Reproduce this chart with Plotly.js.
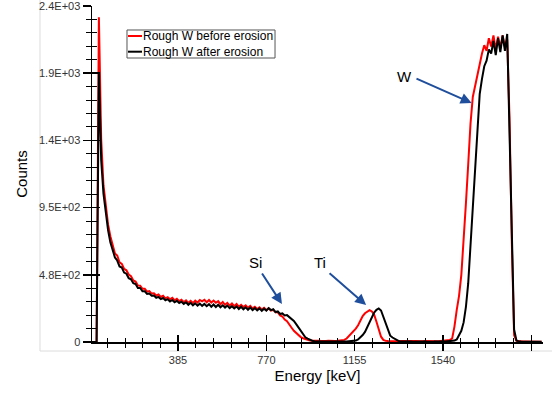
<!DOCTYPE html>
<html>
<head>
<meta charset="utf-8">
<script src="https://cdn.plot.ly/plotly-3.0.1.min.js"></script>
<style>html,body{margin:0;padding:0;background:#fff;}#chart{width:552px;height:394px;}</style>
</head>
<body>
<div id="chart"></div>
<script>
// Energy channels (keV)
var energy = [
0,10,20,30,40,50,60,70,80,90,
100,110,120,130,140,150,160,170,180,190,
200,210,220,230,240,250,260,270,280,290,
300,310,320,330,340,350,360,370,380,390,
400,410,420,430,440,450,460,470,480,490,
500,510,520,530,540,550,560,570,580,590,
600,610,620,630,640,650,660,670,680,690,
700,710,720,730,740,750,760,770,780,790,
800,810,820,830,840,850,860,870,880,890,
900,910,920,930,940,950,960,970,980,990,
1000,1010,1020,1030,1040,1050,1060,1070,1080,1090,
1100,1110,1120,1130,1140,1150,1160,1170,1180,1190,
1200,1210,1220,1230,1240,1250,1260,1270,1280,1290,
1300,1310,1320,1330,1340,1350,1360,1370,1380,1390,
1400,1410,1420,1430,1440,1450,1460,1470,1480,1490,
1500,1510,1520,1530,1540,1550,1560,1570,1580,1590,
1600,1610,1620,1630,1640,1650,1660,1670,1680,1690,
1700,1710,1720,1730,1740,1750,1760,1770,1780,1790,
1800,1810,1820,1830,1840,1850,1860,1870,1880,1890,
1900,1910,1920,1930,1940,1950,1960,1970
];
// Counts: Rough W before erosion
var before = [
0,0,0,0,2320,1450,1120,965,840,755,
690,632,618,570,558,522,512,482,470,440,
432,404,402,380,380,360,364,346,348,332,
340,322,330,312,320,305,316,298,309,292,
302,284,298,280,294,278,296,282,300,290,
302,284,300,282,296,280,292,270,286,266,
280,260,276,256,272,252,266,250,262,244,
258,240,252,236,248,232,244,228,240,224,
230,212,212,190,182,160,148,120,102,80,
64,46,35,27,20,15,11,9,10,8,
9,7,10,8,9,7,10,8,9,11,
12,15,25,42,60,78,96,120,155,185,
205,218,228,218,195,145,92,38,15,8,
7,6,8,7,6,8,7,6,7,8,
6,7,8,6,7,6,8,7,6,7,
8,7,6,8,9,10,12,15,25,110,
230,330,480,710,990,1270,1560,1750,1830,1900,
1990,2060,2120,2080,2170,2110,2190,2090,2180,2100,
2190,2110,2160,1600,720,50,8,5,4,3,
3,2,3,2,2,3,2,2
];
// Counts: Rough W after erosion
var after = [
0,0,0,0,1920,1300,1060,905,800,712,
652,604,582,540,532,496,488,456,448,420,
414,386,386,362,362,344,346,330,332,316,
322,306,314,298,306,290,300,284,294,278,
288,272,284,266,280,262,276,260,274,258,
272,256,270,252,268,250,266,248,262,246,
260,242,256,240,254,236,252,234,248,230,
246,228,242,226,240,222,238,224,242,228,
234,214,218,200,204,190,192,178,168,150,
128,105,80,50,34,24,15,9,5,4,
3,4,3,2,4,3,3,4,2,3,
3,4,3,4,5,6,10,18,32,50,
72,105,140,180,210,230,240,225,180,135,
80,45,32,22,8,4,3,4,3,2,
3,2,3,4,2,3,3,2,4,3,
3,4,3,2,4,3,5,6,8,10,
18,45,80,140,250,420,690,970,1260,1530,
1770,1880,1970,2010,2090,2060,2150,2050,2170,2070,
2190,2080,2200,1500,700,90,12,4,3,2,
2,2,1,2,1,2,1,1
];
var seriesNames = ['Rough W before erosion', 'Rough W after erosion'];
var seriesColors = ['#ff0000', '#000000'];
var xTickVals = [385, 770, 1155, 1540, 1925];
var xTickText = ['385', '770', '1155', '1540', ''];
var yTickVals = [0, 480, 960, 1440, 1920, 2400];
var yTickText = ['0', '4.8E+02', '9.5E+02', '1.4E+03', '1.9E+03', '2.4E+03'];
var peakLabels = ['Si', 'Ti', 'W'];
var labelPos = [[721, 571], [1002, 571], [1374, 1900]];
var arrowTail = [[747, 500], [1039, 500], [1418, 1886]];
var arrowHead = [[838, 271], [1205, 264], [1665, 1707]];

var FONT = 'Arial, "Liberation Sans", sans-serif';
var XR = [10, 1976], YR = [0, 2400];

var traces = [
  {x: energy, y: before, type: 'scatter', mode: 'lines', name: seriesNames[0],
   line: {color: seriesColors[0], width: 2}, hoverinfo: 'skip'},
  {x: energy, y: after, type: 'scatter', mode: 'lines', name: seriesNames[1],
   line: {color: seriesColors[1], width: 2}, hoverinfo: 'skip'},
  {x: [], y: [], xaxis: 'x2', yaxis: 'y2', type: 'scatter', mode: 'lines',
   showlegend: false, hoverinfo: 'skip'}
];

var annotations = [];
for (var i = 0; i < peakLabels.length; i++) {
  annotations.push({x: labelPos[i][0], y: labelPos[i][1], xref: 'x', yref: 'y',
    text: peakLabels[i], showarrow: false, font: {family: FONT, size: 15, color: '#000'}});
  annotations.push({x: arrowHead[i][0], y: arrowHead[i][1], xref: 'x', yref: 'y',
    ax: arrowTail[i][0], ay: arrowTail[i][1], axref: 'x', ayref: 'y', text: '',
    showarrow: true, arrowhead: 2, arrowsize: 1.1, arrowwidth: 2, arrowcolor: '#1f4e9c', standoff: 0});
}

// legend box (drawn as shapes + text)
var legRowY = [0.9107, 0.864];
var shapes = [
  {type: 'path', xref: 'paper', yref: 'paper', path: 'M -0.1153 1.02 L -0.1153 -0.0268 L 1.02 -0.0268',
   line: {color: '#dcdcdc', width: 1}, layer: 'below'},
  {type: 'rect', xref: 'paper', yref: 'paper', x0: 0.0776, x1: 0.4058, y0: 0.8452, y1: 0.9286,
   line: {color: '#555', width: 1}, fillcolor: '#fff', layer: 'above'}
];
for (var k = 0; k < seriesNames.length; k++) {
  shapes.push({type: 'line', xref: 'paper', yref: 'paper', x0: 0.0798, x1: 0.1109,
    y0: legRowY[k], y1: legRowY[k], line: {color: seriesColors[k], width: 2}, layer: 'above'});
  annotations.push({x: 0.1109, y: legRowY[k], xref: 'paper', yref: 'paper', xanchor: 'left', yanchor: 'middle',
    text: seriesNames[k], showarrow: false, borderpad: 0, font: {family: FONT, size: 12, color: '#000'}});
}

var axCommon = {showgrid: false, zeroline: false, showline: true, linecolor: '#000', linewidth: 1.5,
  tickcolor: '#000', tickwidth: 1.5, tickmode: 'array'};

var layout = {
  width: 552, height: 394,
  margin: {l: 92, r: 9, t: 6, b: 52},
  paper_bgcolor: '#fff', plot_bgcolor: '#fff',
  font: {family: FONT, color: '#000'},
  showlegend: false,
  xaxis: Object.assign({}, axCommon, {range: XR, tickvals: xTickVals, ticktext: xTickText,
    ticks: 'outside', ticklen: 7, tickfont: {family: FONT, size: 11, color: '#333'},
    minor: {tickmode: 'linear', tick0: 0, dtick: 77, ticks: 'outside', ticklen: 4, tickwidth: 1, tickcolor: '#000'},
    title: {text: 'Energy [keV]', font: {family: FONT, size: 15, color: '#000'}, standoff: 6}}),
  yaxis: Object.assign({}, axCommon, {range: YR, tickvals: yTickVals, ticktext: yTickText,
    ticks: 'outside', ticklen: 8, ticklabeloverflow: 'allow', tickfont: {family: FONT, size: 11, color: '#333'},
    minor: {tickmode: 'linear', tick0: 0, dtick: 96, ticks: 'outside', ticklen: 5, tickwidth: 1, tickcolor: '#000'},
    title: {text: 'Counts', font: {family: FONT, size: 15, color: '#000'}, standoff: 8}}),
  xaxis2: Object.assign({}, axCommon, {range: XR, tickvals: xTickVals, overlaying: 'x', anchor: 'y2',
    side: 'bottom', ticks: 'inside', ticklen: 7, showticklabels: false,
    minor: {tickmode: 'linear', tick0: 0, dtick: 77, ticks: 'inside', ticklen: 4, tickwidth: 1, tickcolor: '#000'}}),
  yaxis2: Object.assign({}, axCommon, {range: YR, tickvals: yTickVals, overlaying: 'y', anchor: 'x2',
    side: 'left', ticks: 'inside', ticklen: 8, showticklabels: false,
    minor: {tickmode: 'linear', tick0: 0, dtick: 96, ticks: 'inside', ticklen: 5, tickwidth: 1, tickcolor: '#000'}}),
  annotations: annotations,
  shapes: shapes
};

Plotly.newPlot('chart', traces, layout, {staticPlot: true, displayModeBar: false});
</script>
</body>
</html>
